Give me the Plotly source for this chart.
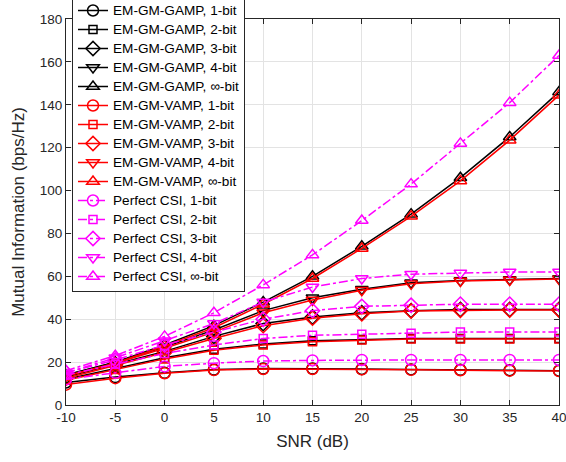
import plotly.graph_objects as go

snr = [-10, -5, 0, 5, 10, 15, 20, 25, 30, 35, 40]

gamp_1 = [10.5, 13, 15, 16.5, 17, 17, 16.8, 16.6, 16.4, 16.2, 16]
gamp_2 = [12, 17, 22, 26, 28.5, 30, 30.5, 31, 31, 31, 31]
gamp_3 = [13, 19, 25, 32, 38, 41, 43, 44, 44.5, 44.5, 44.5]
gamp_4 = [14, 20, 27, 35, 44, 50, 54, 57, 58, 58.5, 59]
gamp_inf = [14, 20, 28, 37, 48, 60, 74, 89, 106, 125, 146]

vamp_1 = [9.5, 12.5, 14.8, 16.3, 16.8, 16.8, 16.6, 16.4, 16.2, 16, 15.8]
vamp_2 = [11.5, 16.5, 21.5, 25.5, 28, 29.5, 30.3, 30.8, 30.8, 30.8, 30.8]
vamp_3 = [12.5, 18.5, 24.5, 31, 37, 40.5, 42.5, 43.8, 44.2, 44.3, 44.3]
vamp_4 = [13.5, 19.5, 26.5, 34, 43, 49, 53.5, 56.5, 57.8, 58.3, 58.7]
vamp_inf = [13.5, 19.5, 27.5, 36, 47, 59, 73, 88, 104.5, 123.5, 144.5]

csi_1 = [12, 15, 18, 19.5, 20.5, 20.8, 21, 21, 21, 21, 21]
csi_2 = [14, 19, 24, 28, 31, 32.5, 33, 33.5, 34, 34, 34]
csi_3 = [15, 21, 28, 34, 40, 44, 46, 46.5, 47, 47, 47]
csi_4 = [15, 22, 30, 38, 48, 55, 59, 61, 61.5, 62, 62]
csi_inf = [16, 23, 32, 43, 56, 70, 86, 103, 122, 141, 163]

x_ticks = [-10, -5, 0, 5, 10, 15, 20, 25, 30, 35, 40]
x_tick_labels = ["-10", "-5", "0", "5", "10", "15", "20", "25", "30", "35", "40"]
y_ticks = [0, 20, 40, 60, 80, 100, 120, 140, 160, 180]

series = [
    ("EM-GM-GAMP, 1-bit", gamp_1, "black", "circle-open", "solid"),
    ("EM-GM-GAMP, 2-bit", gamp_2, "black", "square-open", "solid"),
    ("EM-GM-GAMP, 3-bit", gamp_3, "black", "diamond-open", "solid"),
    ("EM-GM-GAMP, 4-bit", gamp_4, "black", "triangle-down-open", "solid"),
    ("EM-GM-GAMP, ∞-bit", gamp_inf, "black", "triangle-up-open", "solid"),
    ("EM-GM-VAMP, 1-bit", vamp_1, "red", "circle-open", "solid"),
    ("EM-GM-VAMP, 2-bit", vamp_2, "red", "square-open", "solid"),
    ("EM-GM-VAMP, 3-bit", vamp_3, "red", "diamond-open", "solid"),
    ("EM-GM-VAMP, 4-bit", vamp_4, "red", "triangle-down-open", "solid"),
    ("EM-GM-VAMP, ∞-bit", vamp_inf, "red", "triangle-up-open", "solid"),
    ("Perfect CSI, 1-bit", csi_1, "magenta", "circle-open", "dashdot"),
    ("Perfect CSI, 2-bit", csi_2, "magenta", "square-open", "dashdot"),
    ("Perfect CSI, 3-bit", csi_3, "magenta", "diamond-open", "dashdot"),
    ("Perfect CSI, 4-bit", csi_4, "magenta", "triangle-down-open", "dashdot"),
    ("Perfect CSI, ∞-bit", csi_inf, "magenta", "triangle-up-open", "dashdot"),
]

FONT = "Liberation Sans, Arial, sans-serif"

fig = go.Figure()
for name, vals, color, sym, dash in series:
    msize = 8 if sym == "square-open" else 11
    fig.add_trace(go.Scatter(
        x=snr, y=vals, mode="lines+markers",
        name='<span style="font-size:13.6px">' + name + "</span>",
        line=dict(color=color, width=1.5, dash=dash),
        marker=dict(symbol=sym, size=msize, color=color, line=dict(width=1.5, color=color)),
    ))

axis_common = dict(
    showline=True, linecolor="#262626", linewidth=1, mirror="ticks",
    ticks="inside", ticklen=5, tickcolor="#262626",
    showgrid=True, gridcolor="#e3e3e3", gridwidth=1, zeroline=False,
    ticklabeloverflow="allow",
    tickfont=dict(family=FONT, size=13.5, color="#262626"),
)

fig.update_layout(
    width=566, height=462,
    margin=dict(l=66, r=7, t=19, b=57, autoexpand=False),
    paper_bgcolor="white", plot_bgcolor="white",
    font=dict(family=FONT, color="#262626"),
    xaxis=dict(range=[-10, 40], tickvals=x_ticks, ticktext=x_tick_labels,
               title=dict(text="SNR (dB)", font=dict(size=17), standoff=10), **axis_common),
    yaxis=dict(range=[0, 180], tickvals=y_ticks,
               title=dict(text="Mutual Information (bps/Hz)", font=dict(size=17), standoff=10), **axis_common),
    legend=dict(
        x=6 / 493, y=(405 - 292) / 386,
        xanchor="left", yanchor="bottom",
        bgcolor="white", bordercolor="#262626", borderwidth=1,
        font=dict(size=11.8, color="black", family=FONT),
        tracegroupgap=0,
    ),
    showlegend=True,
)

fig.write_html(
    "out.html",
    config={"displayModeBar": False},
    post_script="document.body.style.margin='0';document.body.style.padding='0';",
)
